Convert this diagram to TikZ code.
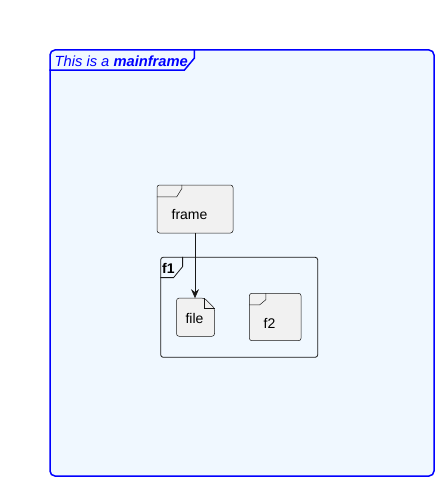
\documentclass[tikz,border=0pt]{standalone}
\usepackage{fontspec}
\setmainfont{Liberation Sans}
\usetikzlibrary{arrows.meta}
\definecolor{mfblue}{RGB}{0,0,255}
\definecolor{mffill}{RGB}{240,248,255}
\definecolor{elfill}{RGB}{241,241,241}
\definecolor{elline}{RGB}{24,24,24}
\tikzset{
  mainbox/.style={draw=mfblue, line width=1.5pt, fill=mffill, rounded corners=5pt, rectangle, inner sep=0pt},
  elem/.style={draw=elline, line width=0.5pt, fill=elfill, rounded corners=2.5pt, rectangle, inner sep=0pt},
  grpbox/.style={draw=elline, line width=0.8pt, rounded corners=2.5pt, rectangle, inner sep=0pt},
  tabline/.style={draw=elline, line width=0.5pt},
  lbl/.style={font=\fontsize{14}{16}\selectfont, inner sep=0pt, anchor=base, text=black},
  conn/.style={draw=elline, line width=0.8pt, -{Stealth[length=9pt,width=8pt,inset=3pt]}}
}
\begin{document}
\begin{tikzpicture}[x=1pt,y=-1pt]
\useasboundingbox (0,0) rectangle (439,481);
% mainframe
\node[mainbox, minimum width=384pt, minimum height=426pt] (main) at (242,263) {};
\draw[draw=mfblue, line width=1.5pt] (main.north west) ++(0,21) -- ++(135,0) -- ++(10,-12) -- ++(0,-9);
\node[font=\fontsize{14.7}{16}\selectfont\itshape, text=mfblue, inner sep=0pt, anchor=base west] (maintitle) at (54.5,67) {This is a \textbf{mainframe}};
% frame element
\node[elem, minimum width=76pt, minimum height=48pt] (frame) at (195,209) {};
\draw[tabline] (frame.north west) ++(0,12) -- ++(20,0) -- ++(5,-8) -- ++(0,-4);
\node[lbl] (frametxt) at (189.5,219) {frame};
% f1 group
\node[grpbox, minimum width=157pt, minimum height=100pt] (f1) at (239.2,307.3) {};
\draw[draw=elline, line width=0.8pt] (f1.north west) ++(0,20.7) -- ++(13.3,0) -- ++(9,-11) -- ++(0,-9.7);
\node[lbl, font=\fontsize{14}{16}\selectfont\bfseries, anchor=base west] (f1txt) at (162,273) {f1};
% file element
\node[rectangle, inner sep=0pt, minimum width=37.6pt, minimum height=37.7pt] (file) at (195.5,317.2) {};
\draw[elem] (file.north west) -- ([xshift=-10pt]file.north east) -- ([yshift=-10pt]file.north east) -- (file.south east) -- (file.south west) -- cycle;
\draw[tabline] ([xshift=-10pt]file.north east) -- ++(0,10) -- ++(10,0);
\node[lbl] (filetxt) at (194.5,323) {file};
% f2 element
\node[elem, minimum width=51.7pt, minimum height=47.4pt] (f2) at (275.2,317) {};
\draw[tabline] (f2.north west) ++(0,11.7) -- ++(10.7,0) -- ++(6,-5) -- ++(0,-6.7);
\node[lbl] (f2txt) at (269.5,328) {f2};
% connector
\draw[conn] (frame.south) -- (frame.south |- file.north);
\end{tikzpicture}
\end{document}
